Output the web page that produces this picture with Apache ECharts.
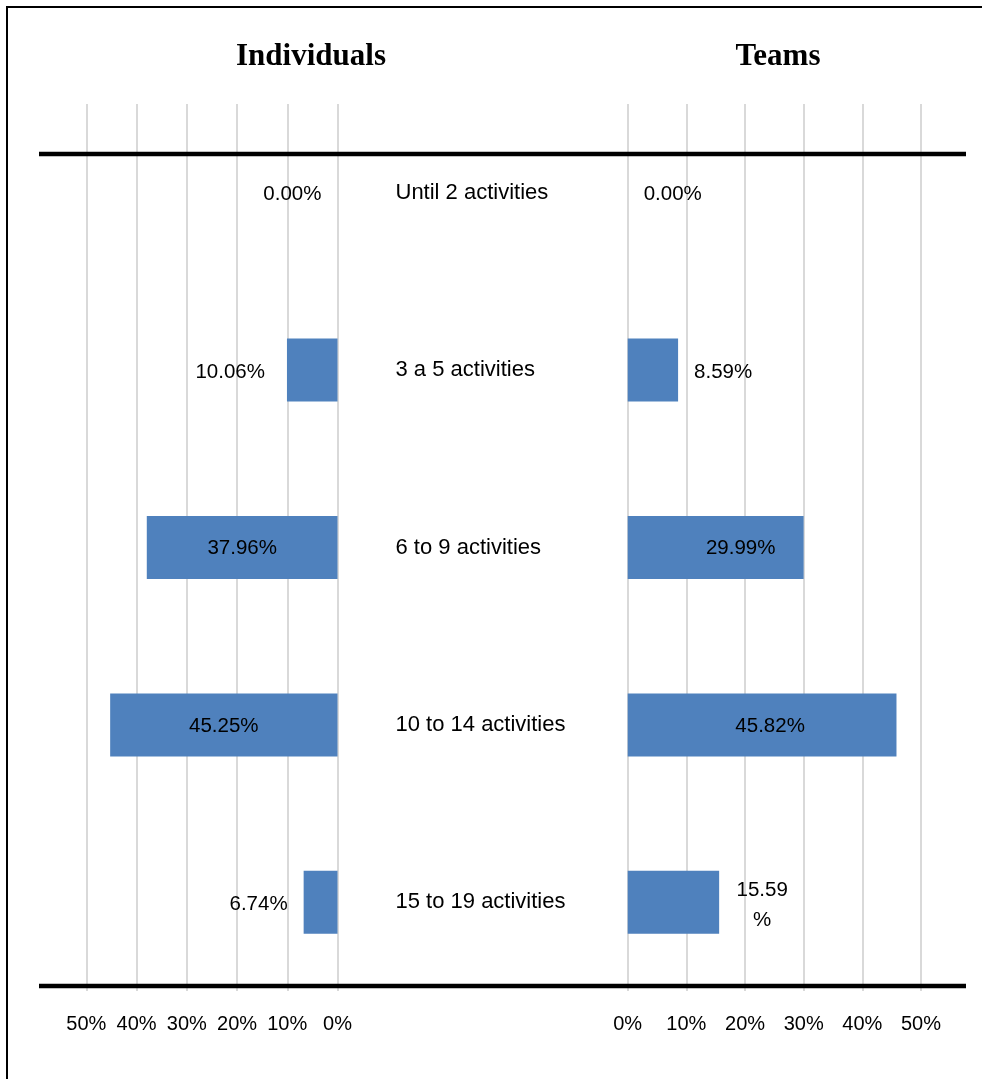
<!DOCTYPE html>
<html>
<head>
<meta charset="utf-8">
<script src="https://cdn.jsdelivr.net/npm/echarts@6/dist/echarts.min.js"></script>
<style>
  html, body { margin: 0; padding: 0; background: #fff; }
  #chart { width: 982px; height: 1079px; }
</style>
</head>
<body>
<div id="chart"></div>
<script>
var categories = ['Until 2 activities', '3 a 5 activities', '6 to 9 activities', '10 to 14 activities', '15 to 19 activities'];
var individuals = [0, 10.06, 37.96, 45.25, 6.74];
var teams = [0, 8.59, 29.99, 45.82, 15.59];
var tickMax = 50;
var tickStep = 10;

var font = '"Liberation Sans", Arial, sans-serif';
var barColor = '#4f81bd';
var gridColor = '#d9d9d9';

function pct(v) { return v.toFixed(2) + '%'; }

// label placement per bar, roughly as in the original (Excel moved some by hand)
var leftLabels = [
  { position: 'left', distance: 16, offset: [0, 2] },
  { position: 'left', distance: 22, offset: [0, 2] },
  { position: 'inside', offset: [0, 1] },
  { position: 'inside', offset: [0, 1] },
  { position: 'left', distance: 16, offset: [0, 2] }
];
var rightLabels = [
  { position: 'right', distance: 16, offset: [0, 2] },
  { position: 'right', distance: 16, offset: [0, 2] },
  { position: 'inside', offset: [25, 1] },
  { position: 'inside', offset: [8, 1] },
  { position: 'right', distance: 43, align: 'center', lineHeight: 30, offset: [0, 3],
    formatter: function(p) { return p.value.toFixed(2) + '\n%'; } }
];

function items(values, labels) {
  return values.map(function(v, i) {
    return { value: v, label: labels[i] };
  });
}

var chart = echarts.init(document.getElementById('chart'), null, { renderer: 'canvas' });

var xBase = {
  type: 'value',
  min: 0,
  max: tickMax,
  interval: tickStep,
  axisLine: { show: false },
  axisTick: { show: false },
  axisLabel: { formatter: '{value}%', color: '#000', fontSize: 20, fontFamily: font, margin: 23 },
  splitLine: { show: true, lineStyle: { color: gridColor, width: 2 } }
};

chart.setOption({
  animation: false,
  backgroundColor: '#fff',
  title: [
    { text: 'Individuals', left: 306, top: 36, textAlign: 'center',
      textStyle: { fontFamily: '"Liberation Serif", "Times New Roman", serif', fontWeight: 'bold', fontSize: 31, color: '#000' } },
    { text: 'Teams', left: 773, top: 36, textAlign: 'center',
      textStyle: { fontFamily: '"Liberation Serif", "Times New Roman", serif', fontWeight: 'bold', fontSize: 31, color: '#000' } }
  ],
  grid: [
    { left: 86.3, width: 251.2, top: 104, height: 887 },
    { left: 627.7, width: 293.3, top: 104, height: 887 }
  ],
  xAxis: [
    Object.assign({}, xBase, { gridIndex: 0, inverse: true }),
    Object.assign({}, xBase, { gridIndex: 1 })
  ],
  yAxis: [
    {
      type: 'category', gridIndex: 0, data: categories, inverse: true, position: 'right',
      axisLine: { show: false }, axisTick: { show: false },
      axisLabel: { align: 'left', margin: 58, color: '#000', fontSize: 22, fontFamily: font,
        padding: [4, 0, 0, 0] }
    },
    {
      type: 'category', gridIndex: 1, data: categories, inverse: true,
      axisLine: { show: false }, axisTick: { show: false }, axisLabel: { show: false }
    }
  ],
  series: [
    {
      name: 'Individuals', type: 'bar', xAxisIndex: 0, yAxisIndex: 0,
      data: items(individuals, leftLabels),
      barWidth: 63,
      itemStyle: { color: barColor },
      label: { show: true, color: '#000', fontSize: 20.5, fontFamily: font,
        formatter: function(p) { return pct(p.value); } }
    },
    {
      name: 'Teams', type: 'bar', xAxisIndex: 1, yAxisIndex: 1,
      data: items(teams, rightLabels),
      barWidth: 63,
      itemStyle: { color: barColor },
      label: { show: true, color: '#000', fontSize: 20.5, fontFamily: font,
        formatter: function(p) { return pct(p.value); } }
    }
  ],
  graphic: [
    { type: 'rect', shape: { x: 7, y: 7, width: 1000, height: 1100 },
      style: { fill: null, stroke: '#000', lineWidth: 2 }, z: 100 },
    { type: 'line', shape: { x1: 39, y1: 154, x2: 966, y2: 154 },
      style: { stroke: '#000', lineWidth: 4.5 }, z: 100 },
    { type: 'line', shape: { x1: 39, y1: 986, x2: 966, y2: 986 },
      style: { stroke: '#000', lineWidth: 4.5 }, z: 100 }
  ]
});
</script>
</body>
</html>
